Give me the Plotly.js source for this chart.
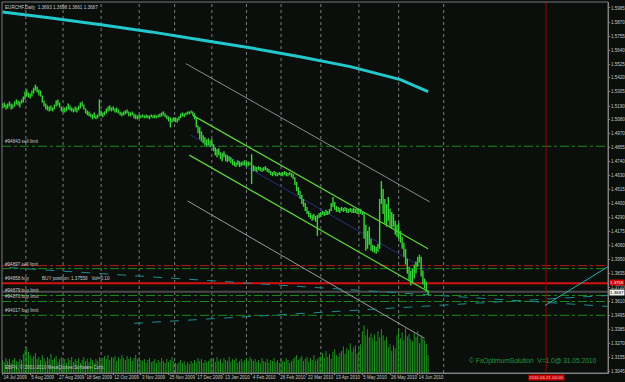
<!DOCTYPE html>
<html><head><meta charset="utf-8">
<script src="https://cdn.plot.ly/plotly-3.0.1.min.js"></script>
<style>html,body{margin:0;padding:0;background:#0b0f0c;}#chart{width:625px;height:382px;}</style>
</head><body><div id="chart"></div>
<script>
const symbol = "EURCHF,Daily";
const dateLabels = ["14 Jul 2009","5 Aug 2009","27 Aug 2009","18 Sep 2009","12 Oct 2009","3 Nov 2009","25 Nov 2009","17 Dec 2009","13 Jan 2010","4 Feb 2010","26 Feb 2010","22 Mar 2010","13 Apr 2010","5 May 2010","26 May 2010","14 Jun 2010"];
const labelBars = [0,16,32,48,64,80,96,112,128,144,160,176,192,208,224,240];
const monthGridBars = [13.5,35,57,79,99.5,121,141,161,184,206,229,255];
const priceTicks = [1.5985,1.5870,1.5755,1.5640,1.5525,1.5420,1.5305,1.5190,1.5080,1.4970,1.4855,1.4740,1.4630,1.4515,1.4400,1.4290,1.4175,1.4060,1.3950,1.3835,1.3720,1.3610,1.3495,1.3385,1.3270,1.3155,1.3045];

const barHigh = [1.5211,1.5219,1.5203,1.5211,1.5228,1.5211,1.5203,1.5228,1.5244,1.5236,
1.5228,1.5244,1.5268,1.5308,1.5324,1.5300,1.5292,1.5316,1.5340,1.5364,
1.5348,1.5324,1.5316,1.5276,1.5236,1.5211,1.5195,1.5187,1.5195,1.5179,
1.5203,1.5236,1.5244,1.5219,1.5187,1.5171,1.5179,1.5187,1.5211,1.5195,
1.5179,1.5171,1.5187,1.5179,1.5195,1.5219,1.5228,1.5203,1.5171,1.5155,
1.5147,1.5131,1.5123,1.5139,1.5115,1.5123,1.5244,1.5155,1.5139,1.5147,
1.5171,1.5187,1.5195,1.5179,1.5187,1.5171,1.5179,1.5163,1.5147,1.5139,
1.5147,1.5155,1.5163,1.5147,1.5139,1.5147,1.5131,1.5123,1.5115,1.5123,
1.5115,1.5123,1.5115,1.5123,1.5115,1.5115,1.5123,1.5115,1.5123,1.5115,
1.5123,1.5131,1.5139,1.5147,1.5131,1.5115,1.5107,1.5099,1.5091,1.5099,
1.5099,1.5091,1.5107,1.5131,1.5139,1.5131,1.5139,1.5147,1.5147,1.5155,
1.5147,1.5131,1.5099,1.5034,1.5018,1.4986,1.4954,1.4937,1.4921,1.4929,
1.4913,1.4921,1.4881,1.4857,1.4841,1.4849,1.4817,1.4808,1.4825,1.4800,
1.4792,1.4784,1.4776,1.4760,1.4744,1.4736,1.4752,1.4744,1.4736,1.4744,
1.4752,1.4736,1.4744,1.4736,1.4800,1.4712,1.4704,1.4696,1.4704,1.4696,
1.4688,1.4696,1.4704,1.4688,1.4680,1.4664,1.4656,1.4664,1.4656,1.4648,
1.4656,1.4648,1.4656,1.4664,1.4656,1.4648,1.4656,1.4648,1.4640,1.4615,
1.4575,1.4535,1.4502,1.4470,1.4438,1.4406,1.4374,1.4341,1.4325,1.4309,
1.4317,1.4301,1.4309,1.4325,1.4333,1.4341,1.4333,1.4350,1.4341,1.4358,
1.4406,1.4454,1.4414,1.4382,1.4374,1.4366,1.4374,1.4366,1.4374,1.4366,
1.4358,1.4366,1.4358,1.4366,1.4358,1.4358,1.4350,1.4358,1.4341,1.4325,
1.4229,1.4180,1.4213,1.4116,1.4068,1.4060,1.4052,1.4076,1.4438,1.4583,
1.4519,1.4438,1.4398,1.4454,1.4358,1.4333,1.4317,1.4261,1.4229,1.4245,
1.4180,1.4132,1.4084,1.4035,1.3955,1.3890,1.3858,1.3874,1.3907,1.3931,
1.3971,1.3987,1.3971,1.3858,1.3794,1.3770,1.3698];

const barLow = [1.5171,1.5179,1.5163,1.5171,1.5187,1.5163,1.5171,1.5187,1.5203,1.5195,
1.5179,1.5211,1.5219,1.5244,1.5268,1.5260,1.5252,1.5268,1.5292,1.5316,
1.5300,1.5276,1.5268,1.5219,1.5187,1.5163,1.5155,1.5147,1.5155,1.5147,
1.5163,1.5187,1.5195,1.5179,1.5147,1.5139,1.5139,1.5147,1.5163,1.5155,
1.5147,1.5139,1.5147,1.5139,1.5155,1.5171,1.5187,1.5163,1.5131,1.5115,
1.5107,1.5099,1.5083,1.5091,1.5083,1.5091,1.5107,1.5107,1.5099,1.5115,
1.5131,1.5147,1.5155,1.5147,1.5155,1.5139,1.5139,1.5131,1.5115,1.5107,
1.5115,1.5123,1.5131,1.5107,1.5107,1.5115,1.5091,1.5083,1.5083,1.5091,
1.5091,1.5099,1.5091,1.5091,1.5091,1.5083,1.5099,1.5091,1.5091,1.5091,
1.5099,1.5099,1.5107,1.5115,1.5099,1.5083,1.5066,1.5018,1.5058,1.5066,
1.5058,1.5058,1.5074,1.5091,1.5107,1.5099,1.5115,1.5123,1.5123,1.5131,
1.5115,1.5083,1.5018,1.4970,1.4921,1.4905,1.4889,1.4873,1.4865,1.4873,
1.4857,1.4865,1.4825,1.4792,1.4776,1.4792,1.4760,1.4744,1.4776,1.4744,
1.4736,1.4744,1.4728,1.4712,1.4704,1.4696,1.4712,1.4696,1.4704,1.4712,
1.4712,1.4696,1.4704,1.4712,1.4559,1.4664,1.4664,1.4656,1.4672,1.4664,
1.4656,1.4664,1.4672,1.4656,1.4648,1.4632,1.4623,1.4632,1.4623,1.4623,
1.4632,1.4623,1.4623,1.4632,1.4623,1.4623,1.4632,1.4615,1.4599,1.4551,
1.4502,1.4470,1.4438,1.4398,1.4374,1.4341,1.4317,1.4293,1.4277,1.4261,
1.4269,1.4253,1.4140,1.4285,1.4293,1.4309,1.4301,1.4309,1.4309,1.4317,
1.4341,1.4374,1.4350,1.4333,1.4333,1.4325,1.4341,1.4333,1.4341,1.4325,
1.4325,1.4333,1.4325,1.4325,1.4325,1.4317,1.4317,1.4317,1.4309,1.4116,
1.4019,1.4035,1.4068,1.4019,1.4011,1.4003,1.3995,1.4011,1.4035,1.4398,
1.4317,1.4237,1.4213,1.4261,1.4213,1.4196,1.4213,1.4148,1.4132,1.4116,
1.4084,1.4035,1.3971,1.3907,1.3834,1.3778,1.3737,1.3762,1.3794,1.3834,
1.3890,1.3923,1.3810,1.3745,1.3713,1.3689,1.3661];

const volume = [1300,1100,1500,1200,1400,1000,1300,1500,1200,1100,1400,1300,
1900,2300,2600,2100,1800,
1500,1700,2000,1400,1600,1300,1800,1500,1200,1600,1400,1900,1300,1500,1700,1100,1400,1600,
1200,1400,1000,1500,1300,1600,1100,1400,1200,1500,1000,1300,1600,1200,1400,1100,1500,1300,1000,1400,1200,1600,1300,
1500,1700,1400,1800,1300,1600,1500,1700,1200,1600,1400,1800,1500,1300,1700,1400,1600,1200,1500,1800,1400,1600,1300,
1200,1400,1000,1300,1500,1100,1200,1400,1000,1300,1100,1500,1200,1000,1400,1100,1300,1600,1200,1000,
900,1100,1300,1000,1200,800,1100,900,1200,1000,1300,1100,1500,1200,1400,1000,1300,1100,1200,1400,
1300,1500,1100,1600,1200,1400,1000,1500,1300,1200,1600,1100,1400,1300,1500,1000,1200,1400,1100,1300,1500,1200,1600,1400,
1200,1400,1100,1300,1000,1500,1200,1100,1400,1000,1300,1200,1500,1100,1300,1000,
1400,1200,1100,1500,1300,1000,1200,1400,1600,1800,1300,1500,1700,1200,1400,1600,1100,1500,1300,1800,1200,1400,1600,
1700,2000,1500,2200,1600,1900,1400,2100,2400,1800,1600,2000,
2200,2700,1900,2500,2300,3000,2100,2600,2800,1900,2400,2900,
4200,4800,3800,4400,3600,4000,
3500,3900,3200,4200,3600,4400,3800,3300,3600,
2600,2900,2200,2800,2500,
3800,4300,3500,4100,3300,4500,3700,3900,3400,
3200,4000,3600,4200,3000,3800,3500,3300,2900,
1800];

const maBars = [0,28,57,86,114,143,172,201,230,246];
const maValues = [1.5952,1.5904,1.5848,1.5791,1.5727,1.5663,1.5590,1.5510,1.5405,1.5308];

const chanUpperBars = [110,246], chanUpper = [1.5115,1.4035];
const chanMidBars = [109,246], chanMid = [1.4954,1.3858];
const chanLowerBars = [108,246], chanLower = [1.4793,1.3689];
const devUpperBars = [106,247], devUpper = [1.5534,1.4414];
const devLowerBars = [107,244], devLower = [1.4422,1.3310];
const trendABars = [4,350], trendA = [1.3882,1.3568];
const trendBBars = [76,350], trendB = [1.3431,1.3657];
const trendCBars = [313.6,350], trendC = [1.3576,1.3890];

const lastOpen = 1.3693, lastClose = 1.3687;
const buyPrice = 1.37558;
const orderNames = ["#94843 sell limit","#94897 sell limit","#94879 buy limit","#94876 buy limit","#94017 buy limit"];
const orderPrices = [1.4865,1.3874,1.3657,1.3608,1.3496];
const stopLevel = 1.3898;
const vLineBar = 314.2;
const vLineLabel = "2010.06.21 00:00";

const F = 'Liberation Sans, Arial, sans-serif';
const bx=[], by=[];
barHigh.forEach((h,i)=>{bx.push(i,i,null); by.push(barLow[i],h,null);});

const line = (x,y,color,width,dash)=>({type:'scatter',mode:'lines',x:x,y:y,line:{color:color,width:width,dash:dash||'solid'},hoverinfo:'skip'});

const traces = [
  {type:'bar',x:volume.map((v,i)=>i),y:volume,xaxis:'x',yaxis:'y2',marker:{color:'#1e9a1e',line:{width:0}},width:0.55,hoverinfo:'skip'},
  line(maBars,maValues,'#22c8cc',3),
  line(devUpperBars,devUpper,'#8a8a8a',1),
  line(devLowerBars,devLower,'#9a9a9a',1),
  line(chanMidBars,chanMid,'#23307a',1),
  line(chanUpperBars,chanUpper,'#5fd43a',1.2),
  line(chanLowerBars,chanLower,'#5fd43a',1.2),
  line(trendABars,trendA,'#1c8c8c',1,'dash'),
  line(trendBBars,trendB,'#1c8c8c',1,'dash'),
  line(trendCBars,trendC,'#2ab0b8',1),
  {type:'scatter',mode:'lines',x:bx,y:by,line:{color:'#36d636',width:1.4},connectgaps:false,hoverinfo:'skip'}
];

const shapes = [];
monthGridBars.forEach(g=>shapes.push({type:'line',xref:'x',yref:'paper',x0:g,x1:g,y0:0,y1:1,line:{color:'#7c7c7c',width:1,dash:'dot'},layer:'below'}));
orderPrices.forEach(p=>shapes.push({type:'line',xref:'paper',yref:'y',x0:0,x1:1,y0:p,y1:p,line:{color:'#1d8a1d',width:1,dash:'dashdot'},layer:'below'}));
shapes.push({type:'line',xref:'paper',yref:'y',x0:0,x1:1,y0:stopLevel,y1:stopLevel,line:{color:'#c01818',width:1,dash:'dashdot'},layer:'below'});
shapes.push({type:'line',xref:'paper',yref:'y',x0:0,x1:1,y0:lastClose,y1:lastClose,line:{color:'#4a4a4a',width:2},layer:'below'});
shapes.push({type:'line',xref:'paper',yref:'y',x0:0,x1:1,y0:buyPrice,y1:buyPrice,line:{color:'#d41010',width:2},layer:'below'});
shapes.push({type:'line',xref:'x',yref:'paper',x0:vLineBar,x1:vLineBar,y0:0,y1:1,line:{color:'#9a0000',width:1},layer:'below'});
shapes.push({type:'rect',xref:'paper',yref:'paper',x0:0,x1:1,y0:0,y1:1,line:{color:'#7a7a7a',width:1},layer:'above'});

const small = {family:F,size:4.6,color:'#c8c8c8'};
const ann = [];
orderNames.forEach((n,k)=>ann.push({xref:'paper',yref:'y',x:0,y:orderPrices[k],xanchor:'left',yanchor:'bottom',xshift:1,yshift:0,text:n,showarrow:false,font:small}));
ann.push({xref:'paper',yref:'y',x:0,y:buyPrice,xanchor:'left',yanchor:'bottom',xshift:1,text:'#94858 buy',showarrow:false,font:small});
ann.push({xref:'paper',yref:'y',x:0.063,y:buyPrice,xanchor:'left',yanchor:'bottom',text:'BUY position: '+buyPrice.toFixed(5)+'   Vol=0.10',showarrow:false,font:small});
ann.push({xref:'paper',yref:'paper',x:0,y:1,xanchor:'left',yanchor:'top',xshift:1,yshift:-1,text:symbol+'  '+lastOpen.toFixed(4)+' '+barHigh[barHigh.length-1].toFixed(4)+' '+barLow[barLow.length-1].toFixed(4)+' '+lastClose.toFixed(4),showarrow:false,font:small});
ann.push({xref:'paper',yref:'paper',x:0,y:0,xanchor:'left',yanchor:'bottom',xshift:1,yshift:1,text:'EBFN, © 2001-2010 MetaQuotes Software Corp.',showarrow:false,font:small});
ann.push({xref:'paper',yref:'paper',x:0.767,y:0.032,xanchor:'left',yanchor:'middle',text:'© FxOptimumSolution  V=1.0@ 31.05.2010',showarrow:false,font:{family:F,size:6.6,color:'#239a3e'}});
ann.push({xref:'x',yref:'paper',x:vLineBar,y:0,xanchor:'center',yanchor:'top',yshift:-1,text:vLineLabel,showarrow:false,bgcolor:'#c80000',borderpad:0,font:{family:F,size:4.4,color:'#f0d0d0'}});
ann.push({xref:'paper',yref:'y',x:1,y:buyPrice,xanchor:'left',yanchor:'middle',xshift:1,yshift:1,text:buyPrice.toFixed(4),showarrow:false,bgcolor:'#d00000',borderpad:0,font:{family:F,size:4.4,color:'#ffffff'}});
ann.push({xref:'paper',yref:'y',x:1,y:lastClose,xanchor:'left',yanchor:'middle',xshift:1,yshift:-1,text:lastClose.toFixed(4),showarrow:false,bgcolor:'#f0f0f0',borderpad:0,font:{family:F,size:4.4,color:'#000000'}});

const layout = {
  width:625,height:382,
  margin:{l:2,r:17,t:2,b:9,pad:0},
  paper_bgcolor:'#0b0f0c',plot_bgcolor:'#0b0f0c',
  showlegend:false,
  xaxis:{range:[-0.3,350],tickmode:'array',tickvals:labelBars,ticktext:dateLabels,ticks:'outside',ticklen:1,tickcolor:'#8a8a8a',tickangle:0,
    showgrid:false,zeroline:false,showline:true,linecolor:'#8a8a8a',ticklabelposition:'outside right',
    tickfont:{family:F,size:4.5,color:'#c8c8c8'},fixedrange:true},
  yaxis:{range:[1.3029,1.6033],side:'right',tickmode:'array',tickvals:priceTicks,ticktext:priceTicks.map(v=>v.toFixed(4)),
    ticks:'outside',ticklen:1,tickcolor:'#8a8a8a',showgrid:false,zeroline:false,showline:true,linecolor:'#8a8a8a',
    tickfont:{family:F,size:4.5,color:'#c8c8c8'},fixedrange:true},
  yaxis2:{overlaying:'y',range:[0,37300],visible:false,fixedrange:true},
  shapes:shapes,annotations:ann
};
Plotly.newPlot('chart',traces,layout,{displayModeBar:false,staticPlot:true});
</script></body></html>
